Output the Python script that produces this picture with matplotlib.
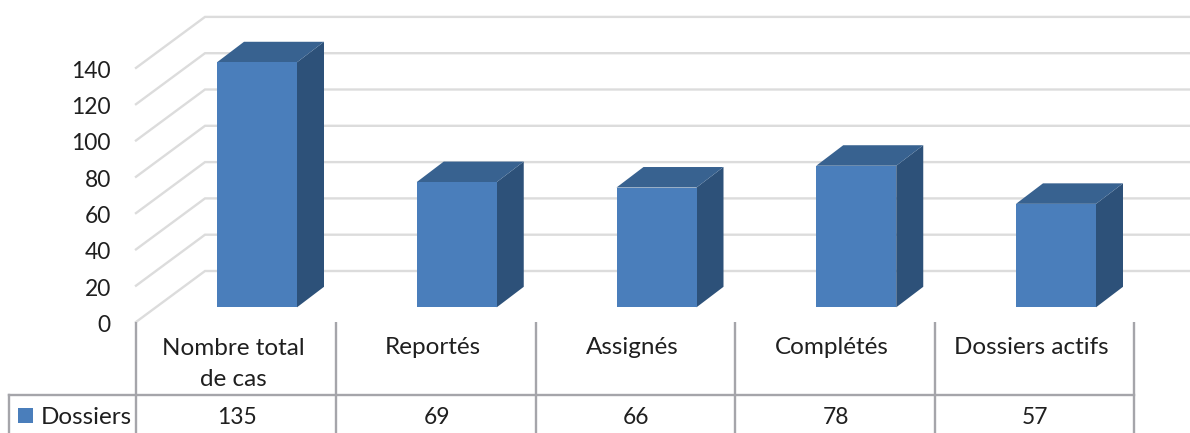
import matplotlib
matplotlib.use("Agg")
import matplotlib.pyplot as plt
from matplotlib.patches import Polygon, Rectangle

categories = ["Nombre total\nde cas", "Reportés", "Assignés", "Complétés", "Dossiers actifs"]
values = [135, 69, 66, 78, 57]
y_ticks = [0, 20, 40, 60, 80, 100, 120, 140]
series_name = "Dossiers"

W, H = 1190, 433
PX_CAT, PX_VAL = 199.75, 1.815
X0_PX, Y0_PX = 257, 307.3
C_FRONT, C_TOP, C_SIDE = "#4A7EBB", "#386290", "#2D5179"
C_GRID, C_TABLE, C_TEXT = "#DCDCDC", "#A5A5AA", "#1F1F1F"
FS_NUM, FS_WORD = 16.4, 17.5

plt.rcParams["font.family"] = ["Lato", "DejaVu Sans"]
fig = plt.figure(figsize=(W / 100, H / 100), dpi=100)
ax = fig.add_axes([0, 0, 1, 1])
ax.set_xlim(-X0_PX / PX_CAT, (W - X0_PX) / PX_CAT)
ax.set_ylim(-(H - Y0_PX) / PX_VAL, Y0_PX / PX_VAL)
ax.axis("off")


def dx(p):
    return p / PX_CAT


def dy(p):
    return p / PX_VAL


# Positions of the floor planes, relative to the bar's base
front_x, back_x = dx(136 - X0_PX), dx(205 - X0_PX)
front_y, back_y = dy(Y0_PX - 322), dy(Y0_PX - 271)
right_x = dx(W - X0_PX)

for v in y_ticks:
    ax.plot([front_x, back_x, right_x], [v + front_y, v + back_y, v + back_y],
            color=C_GRID, lw=1.7, solid_joinstyle="miter", zorder=1)
    ax.text(dx(111 - X0_PX), v + front_y - dy(1.5), str(v), ha="right", va="center_baseline",
            fontsize=FS_NUM, color=C_TEXT)

# 3D bars
half = dx(40)
ox, oy = dx(27), dy(20.5)
for i, v in enumerate(values):
    l, r = i - half, i + half
    ax.add_patch(Polygon([(r, 0), (r + ox, oy), (r + ox, v + oy), (r, v)], fc=C_SIDE, ec="none", zorder=3))
    ax.add_patch(Polygon([(l, v), (l + ox, v + oy), (r + ox, v + oy), (r, v)], fc=C_TOP, ec="none", zorder=3))
    ax.add_patch(Rectangle((l, 0), r - l, v, fc=C_FRONT, ec="none", zorder=4))

# Data table
table_top = dy(Y0_PX - 322)
table_mid = dy(Y0_PX - 395)
table_bot = dy(Y0_PX - H)
table_left = dx(9 - X0_PX)
first = dx(136.5 - X0_PX)
step = dx(199.5)
n = len(categories)
edges = [first + k * step for k in range(n + 1)]
for e in edges:
    ax.plot([e, e], [table_top, table_bot], color=C_TABLE, lw=1.7, zorder=2, solid_capstyle="butt")
ax.plot([table_left, edges[-1]], [table_mid, table_mid], color=C_TABLE, lw=1.7, zorder=2)
ax.plot([table_left, table_left], [table_mid, table_bot], color=C_TABLE, lw=1.7, zorder=2)

for i, (c, v) in enumerate(zip(categories, values)):
    cx = edges[i] + step / 2
    ax.text(cx - dx(2.5), dy(Y0_PX - 348) if "\n" not in c else dy(Y0_PX - 364), c, ha="center",
            va="center", fontsize=FS_WORD, color=C_TEXT, linespacing=1.55)
    ax.text(cx + dx(1), dy(Y0_PX - 418), str(v), ha="center", va="center", fontsize=FS_NUM, color=C_TEXT)

ax.add_patch(Rectangle((dx(18 - X0_PX), dy(Y0_PX - 423)), dx(15), dy(15), fc=C_FRONT, ec="none", zorder=4))
ax.text(dx(40.5 - X0_PX), dy(Y0_PX - 417), series_name, ha="left", va="center", fontsize=FS_WORD, color=C_TEXT)

fig.savefig("out.png", dpi=100)
